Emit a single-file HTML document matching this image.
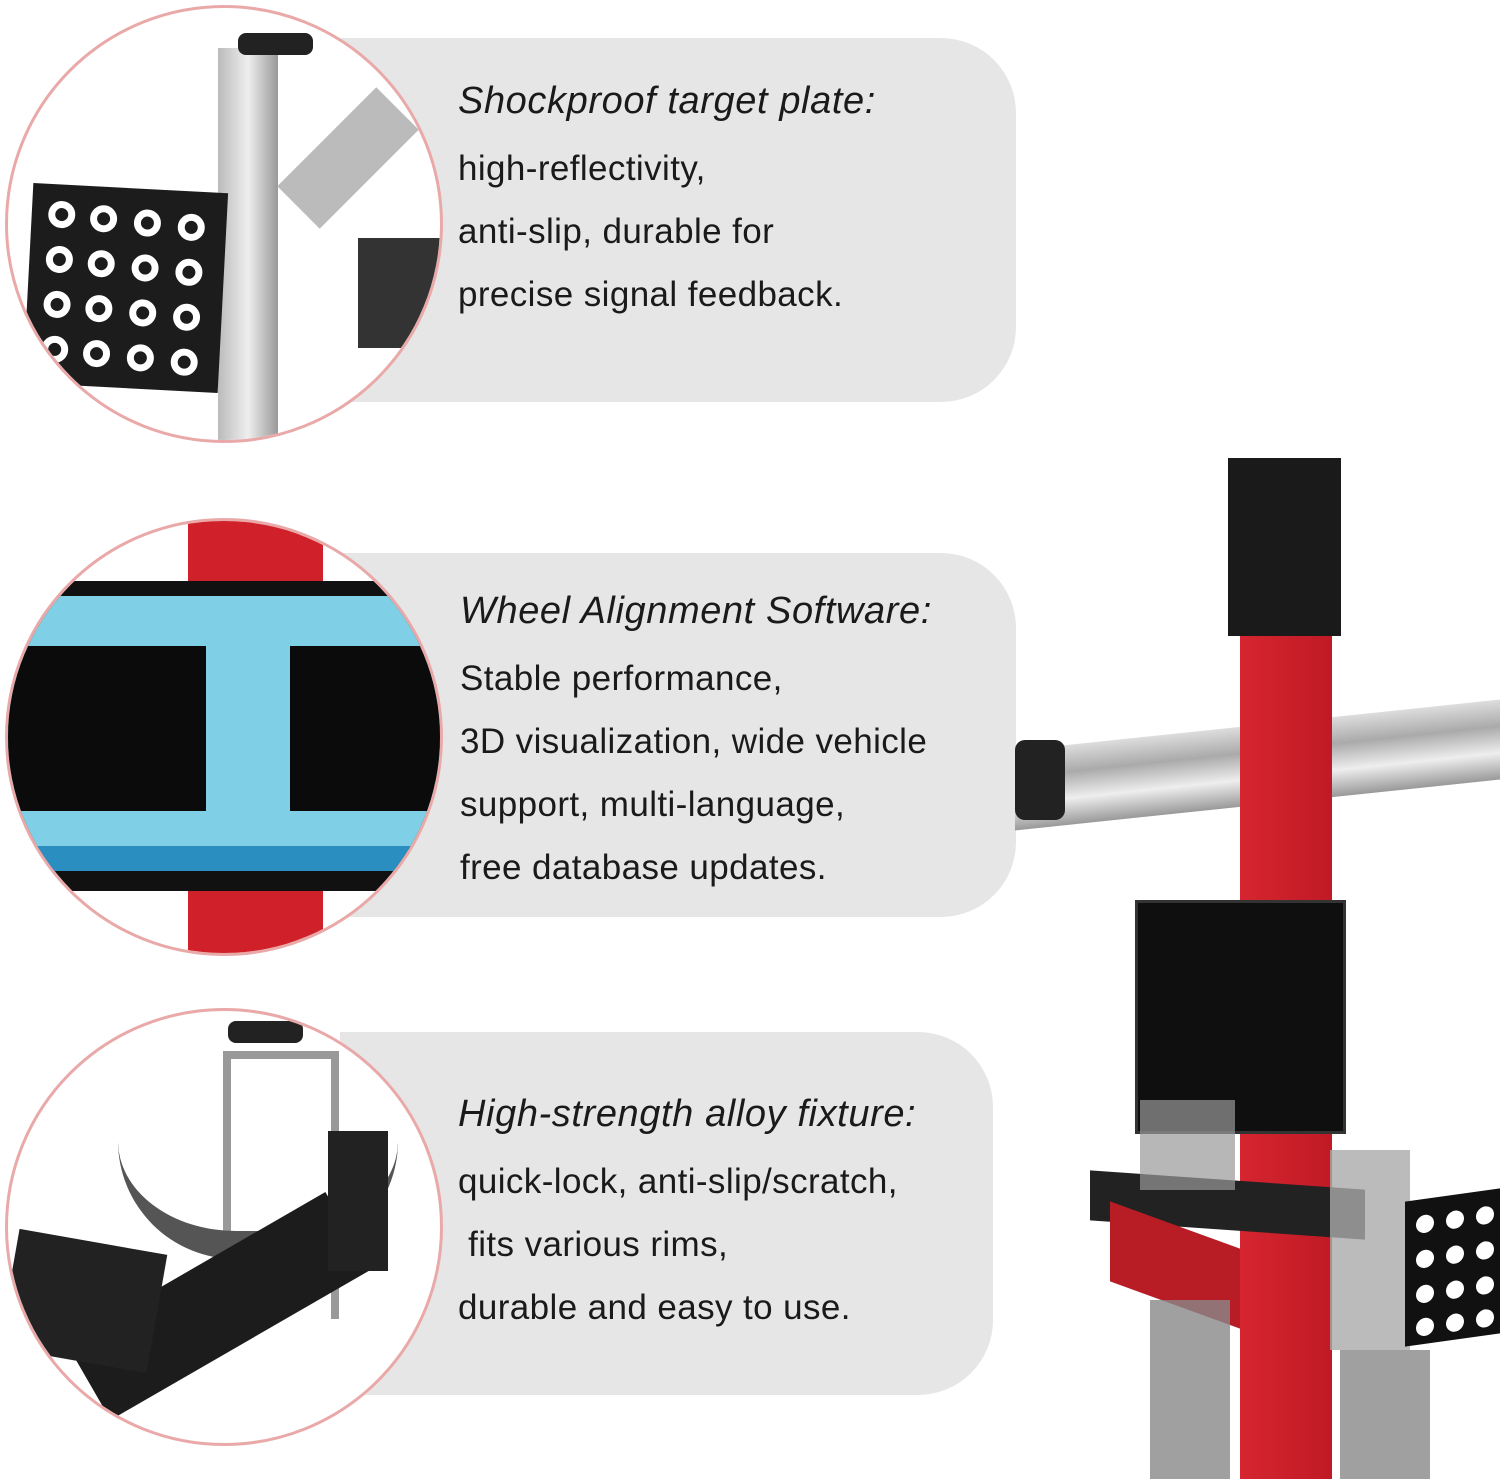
<!DOCTYPE html>
<html><head><meta charset="utf-8"><style>
body{margin:0;width:1500px;height:1479px;background:#fff;position:relative;overflow:hidden;font-family:"Liberation Sans",sans-serif}
.p{position:absolute;background:#e6e6e6;border-radius:0 75px 75px 0}
.c{position:absolute;width:432px;height:432px;border-radius:50%;border:3px solid #eaa9a9;overflow:hidden;background:#fff}
.t{position:absolute;font-size:35px;color:#1a1a1a;line-height:63px;letter-spacing:0.4px;white-space:nowrap}
.t i{font-size:38px;display:block;margin-bottom:4px;letter-spacing:0.6px}
.a{position:absolute}
</style></head><body>
<div class="p" style="left:340px;top:38px;width:676px;height:364px"></div>
<div class="p" style="left:340px;top:553px;width:676px;height:364px"></div>
<div class="p" style="left:340px;top:1032px;width:653px;height:363px"></div>

<!-- circle 1 -->
<div class="c" style="left:5px;top:5px">
 <div class="a" style="left:210px;top:40px;width:60px;height:400px;background:linear-gradient(90deg,#bbb,#eee,#999)"></div>
 <div class="a" style="left:230px;top:25px;width:75px;height:22px;background:#222;border-radius:8px"></div>
 <div class="a" style="left:270px;top:120px;width:140px;height:60px;background:#bbb;transform:rotate(-45deg)"></div>
 <div class="a" style="left:350px;top:230px;width:90px;height:110px;background:#333"></div>
 <div class="a" style="left:20px;top:180px;width:195px;height:200px;background:#1c1c1c;transform:rotate(3deg)">
  <svg width="195" height="200"><g fill="none" stroke="#fff" stroke-width="7">
  <circle cx="30" cy="30" r="10"/><circle cx="72" cy="32" r="10"/><circle cx="116" cy="34" r="10"/><circle cx="160" cy="36" r="10"/>
  <circle cx="30" cy="75" r="10"/><circle cx="72" cy="77" r="10"/><circle cx="116" cy="79" r="10"/><circle cx="160" cy="81" r="10"/>
  <circle cx="30" cy="120" r="10"/><circle cx="72" cy="122" r="10"/><circle cx="116" cy="124" r="10"/><circle cx="160" cy="126" r="10"/>
  <circle cx="30" cy="165" r="10"/><circle cx="72" cy="167" r="10"/><circle cx="116" cy="169" r="10"/><circle cx="160" cy="171" r="10"/></g></svg>
 </div>
</div>
<!-- circle 2 -->
<div class="c" style="left:5px;top:518px">
 <div class="a" style="left:180px;top:0;width:135px;height:440px;background:#d0202a"></div>
 <div class="a" style="left:0;top:60px;width:432px;height:310px;background:#111"></div>
 <div class="a" style="left:0;top:75px;width:432px;height:250px;background:#7fd0e6"></div>
 <div class="a" style="left:0;top:325px;width:432px;height:25px;background:#2a8fc0"></div>
 <div class="a" style="left:0;top:125px;width:198px;height:165px;background:#0b0b0b"></div>
 <div class="a" style="left:282px;top:125px;width:150px;height:165px;background:#0b0b0b"></div>
</div>
<!-- circle 3 -->
<div class="c" style="left:5px;top:1008px">
 <div class="a" style="left:215px;top:40px;width:100px;height:260px;border:8px solid #999;border-bottom:none"></div>
 <div class="a" style="left:220px;top:10px;width:75px;height:22px;background:#222;border-radius:8px"></div>
 <div class="a" style="left:110px;top:130px;width:280px;height:90px;border-bottom:28px solid #555;border-radius:0 0 140px 140px"></div>
 <div class="a" style="left:60px;top:250px;width:300px;height:90px;background:#1c1c1c;transform:rotate(-30deg)"></div>
 <div class="a" style="left:0;top:230px;width:150px;height:120px;background:#222;transform:rotate(10deg)"></div>
 <div class="a" style="left:320px;top:120px;width:60px;height:140px;background:#222"></div>
</div>

<div class="t" style="left:458px;top:70px"><i>Shockproof target plate:</i>high-reflectivity,<br>anti-slip, durable for<br>precise signal feedback.</div>
<div class="t" style="left:460px;top:580px"><i>Wheel Alignment Software:</i>Stable performance,<br>3D visualization, wide vehicle<br>support, multi-language,<br>free database updates.</div>
<div class="t" style="left:458px;top:1083px"><i>High-strength alloy fixture:</i>quick-lock, anti-slip/scratch,<br>&nbsp;fits various rims,<br>durable and easy to use.</div>

<!-- machine -->
<div class="a" style="left:1015px;top:725px;width:485px;height:80px;background:linear-gradient(#ddd,#aaa,#eee,#999);transform:skewY(-6deg)"></div>
<div class="a" style="left:1015px;top:740px;width:50px;height:80px;background:#222;border-radius:10px"></div>
<div class="a" style="left:1240px;top:630px;width:92px;height:849px;background:linear-gradient(90deg,#d52530,#c01a25)"></div>
<div class="a" style="left:1228px;top:458px;width:113px;height:178px;background:#1a1a1a"></div>
<div class="a" style="left:1135px;top:900px;width:205px;height:228px;background:#0f0f0f;border:3px solid #333"></div>
<div class="a" style="left:1090px;top:1180px;width:275px;height:50px;background:#222;transform:skewY(4deg)"></div>
<div class="a" style="left:1110px;top:1225px;width:130px;height:80px;background:#b81d26;transform:skewY(20deg)"></div>
<div class="a" style="left:1140px;top:1100px;width:95px;height:90px;background:#999;opacity:.7"></div>
<div class="a" style="left:1330px;top:1150px;width:80px;height:200px;background:#aaa;opacity:.8"></div>
<div class="a" style="left:1150px;top:1300px;width:80px;height:179px;background:#888;opacity:.8"></div>
<div class="a" style="left:1340px;top:1350px;width:90px;height:129px;background:#888;opacity:.8"></div>
<div class="a" style="left:1405px;top:1195px;width:95px;height:145px;background:#111;transform:skewY(-8deg)">
<svg width="95" height="145"><g fill="#fff"><circle cx="20" cy="25" r="9"/><circle cx="50" cy="25" r="9"/><circle cx="80" cy="25" r="9"/><circle cx="20" cy="60" r="9"/><circle cx="50" cy="60" r="9"/><circle cx="80" cy="60" r="9"/><circle cx="20" cy="95" r="9"/><circle cx="50" cy="95" r="9"/><circle cx="80" cy="95" r="9"/><circle cx="20" cy="128" r="9"/><circle cx="50" cy="128" r="9"/><circle cx="80" cy="128" r="9"/></g></svg></div>
</body></html>
